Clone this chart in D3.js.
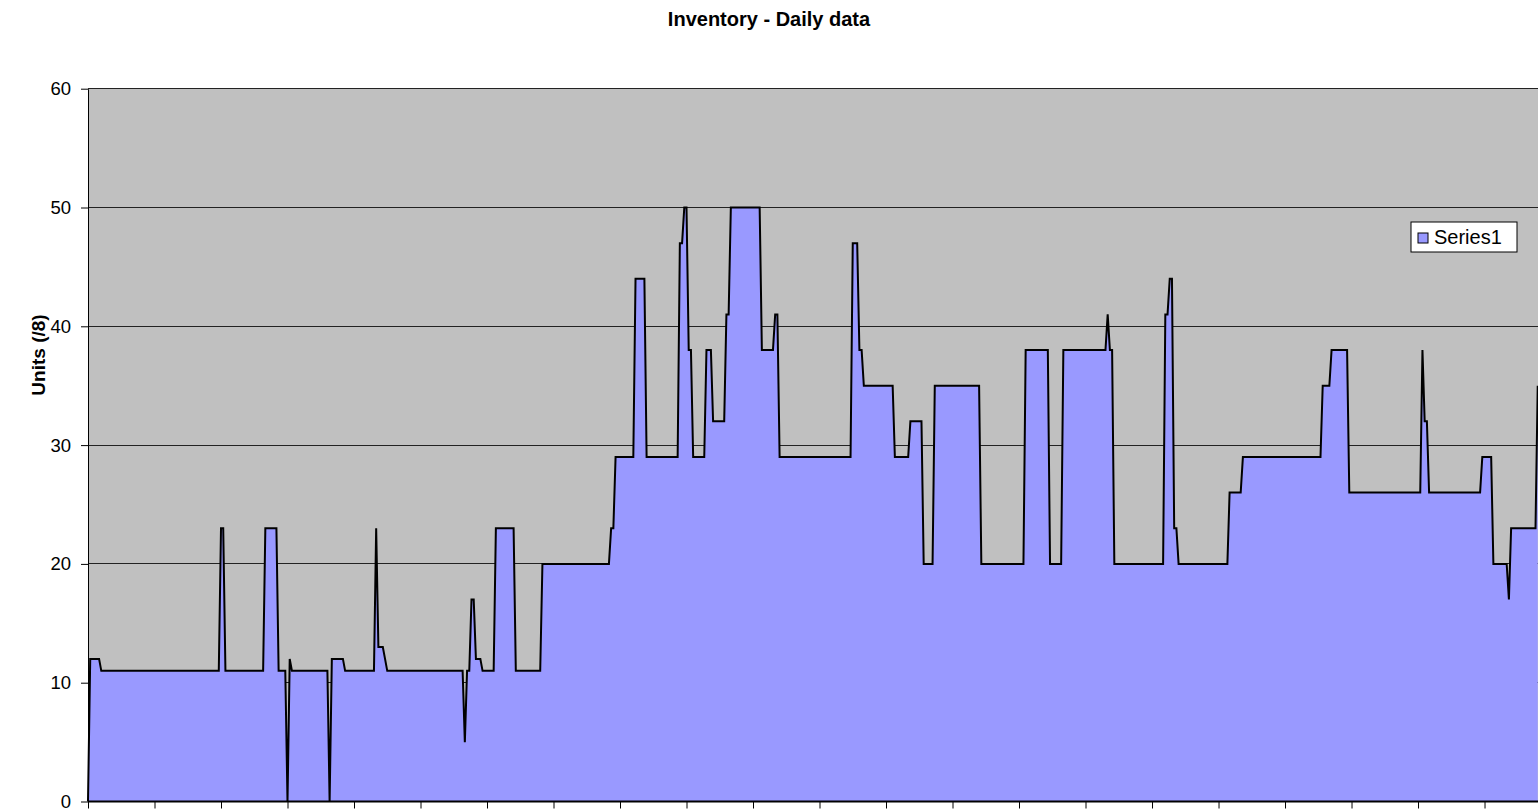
<!DOCTYPE html>
<html>
<head>
<meta charset="utf-8">
<script src="https://cdn.jsdelivr.net/npm/d3@7"></script>
<style>
  html, body { margin: 0; padding: 0; background: #fff; }
  svg { display: block; font-family: Arial, "Liberation Sans", sans-serif; }
</style>
</head>
<body>
<svg id="chart"></svg>
<script>
const width = 1538;
const height = 811;

// Series1 - daily inventory, vertices of the stepped series (day index, units)
const days = [
  0, 1, 5, 6, 59, 60, 61, 62, 79, 80, 85, 86, 89, 90, 91, 92, 108, 109, 110, 115,
  116, 129, 130, 131, 133, 134, 135, 169, 170, 171, 172, 173, 174, 175, 177, 178, 183,
  184, 192, 193, 204, 205, 235, 236, 237, 238, 246, 247, 251, 252, 266, 267, 268,
  269, 270, 271, 272, 273, 278, 279, 281, 282, 287, 288, 289, 290, 303, 304, 309,
  310, 311, 312, 344, 345, 347, 348, 349, 350, 363, 364, 370, 371, 376, 377, 381,
  382, 402, 403, 422, 423, 433, 434, 439, 440, 459, 460, 461, 462, 463, 485, 486,
  487, 488, 489, 490, 491, 492, 514, 515, 520, 521, 556, 557, 560, 561, 568, 569,
  601, 602, 603, 604, 605, 628, 629, 633, 634, 640, 641, 642, 653, 654
];
const units = [
  0, 12, 12, 11, 11, 23, 23, 11, 11, 23, 23, 11, 11, 0, 12, 11, 11, 0, 12, 12,
  11, 11, 23, 13, 13, 12, 11, 11, 5, 11, 11, 17, 17, 12, 12, 11, 11,
  23, 23, 11, 11, 20, 20, 23, 23, 29, 29, 44, 44, 29, 29, 47, 47,
  50, 50, 38, 38, 29, 29, 38, 38, 32, 32, 41, 41, 50, 50, 38, 38,
  41, 41, 29, 29, 47, 47, 38, 38, 35, 35, 29, 29, 32, 32, 20, 20,
  35, 35, 20, 20, 38, 38, 20, 20, 38, 38, 41, 38, 38, 20, 20, 41,
  41, 44, 44, 23, 23, 20, 20, 26, 26, 29, 29, 35, 35, 38, 38, 26,
  26, 38, 32, 32, 26, 26, 29, 29, 20, 20, 17, 23, 23, 35
];
const yTicks = [0, 10, 20, 30, 40, 50, 60];
const xTicks = [0, 30, 60, 90, 120, 150, 180, 210, 240, 270, 300, 330, 360, 390,
  420, 450, 480, 510, 540, 570, 600, 630];
const seriesName = "Series1";

const data = days.map((d, i) => ({ day: d, units: units[i] }));

const plotLeft = 88, plotRight = 1541, plotTop = 88.7, plotBottom = 801.5;

const svg = d3.select("#chart").attr("width", width).attr("height", height);

svg.append("rect").attr("width", width).attr("height", height).attr("fill", "#fff");

const x = d3.scaleLinear().domain([0, 654]).range([plotLeft, plotLeft + 654 * 2.2167]);
const y = d3.scaleLinear().domain([0, 60]).range([plotBottom, plotTop]);

// plot background
svg.append("rect")
  .attr("x", plotLeft).attr("y", y(60))
  .attr("width", plotRight - plotLeft).attr("height", y(0) - y(60))
  .attr("fill", "#c0c0c0");

// gridlines
svg.append("g")
  .selectAll("line")
  .data(yTicks.filter(t => t > 0))
  .join("line")
  .attr("x1", plotLeft).attr("x2", plotRight)
  .attr("y1", d => y(d)).attr("y2", d => y(d))
  .attr("stroke", "#222").attr("stroke-width", 1)
  .attr("shape-rendering", "crispEdges");

// area + outline
const area = d3.area().x(d => x(d.day)).y0(y(0)).y1(d => y(d.units));
const line = d3.line().x(d => x(d.day)).y(d => y(d.units));

svg.append("path").datum(data).attr("d", area).attr("fill", "#9999ff");
svg.append("path").datum(data).attr("d", line)
  .attr("fill", "none").attr("stroke", "#000").attr("stroke-width", 2)
  .attr("stroke-linejoin", "miter").attr("stroke-miterlimit", 6);

// x axis (category ticks, no labels)
const xAxis = svg.append("g")
  .attr("transform", `translate(0,${y(0)})`)
  .call(d3.axisBottom(x).tickValues(xTicks).tickFormat("").tickSize(7).tickSizeOuter(0));
xAxis.select(".domain").attr("stroke", "#000").attr("stroke-width", 2)
  .attr("d", `M${plotLeft},0H${plotRight}`);
xAxis.selectAll(".tick line").attr("stroke", "#000");

// y axis
const yAxis = svg.append("g")
  .attr("transform", `translate(${plotLeft},0)`)
  .call(d3.axisLeft(y).tickValues(yTicks).tickSize(7).tickPadding(10).tickSizeOuter(0));
yAxis.select(".domain").attr("stroke", "#000");
yAxis.selectAll(".tick line").attr("stroke", "#000");
yAxis.selectAll(".tick text")
  .attr("font-size", 18.5).attr("fill", "#000")
  .attr("font-family", "Arial, 'Liberation Sans', sans-serif");

// title
svg.append("text")
  .attr("x", 769).attr("y", 26)
  .attr("text-anchor", "middle")
  .attr("font-size", 20).attr("font-weight", "bold")
  .text("Inventory - Daily data");

// y axis title
svg.append("text")
  .attr("transform", "translate(45,355) rotate(-90)")
  .attr("text-anchor", "middle")
  .attr("font-size", 19).attr("font-weight", "bold")
  .text("Units (/8)");

// legend
const legend = svg.append("g").attr("transform", "translate(1411,222)");
legend.append("rect")
  .attr("width", 106).attr("height", 30)
  .attr("fill", "#fff").attr("stroke", "#000");
legend.append("rect")
  .attr("x", 7).attr("y", 11).attr("width", 10).attr("height", 10)
  .attr("fill", "#9999ff").attr("stroke", "#000");
legend.append("text")
  .attr("x", 23).attr("y", 22)
  .attr("font-size", 20)
  .text(seriesName);
</script>
</body>
</html>
